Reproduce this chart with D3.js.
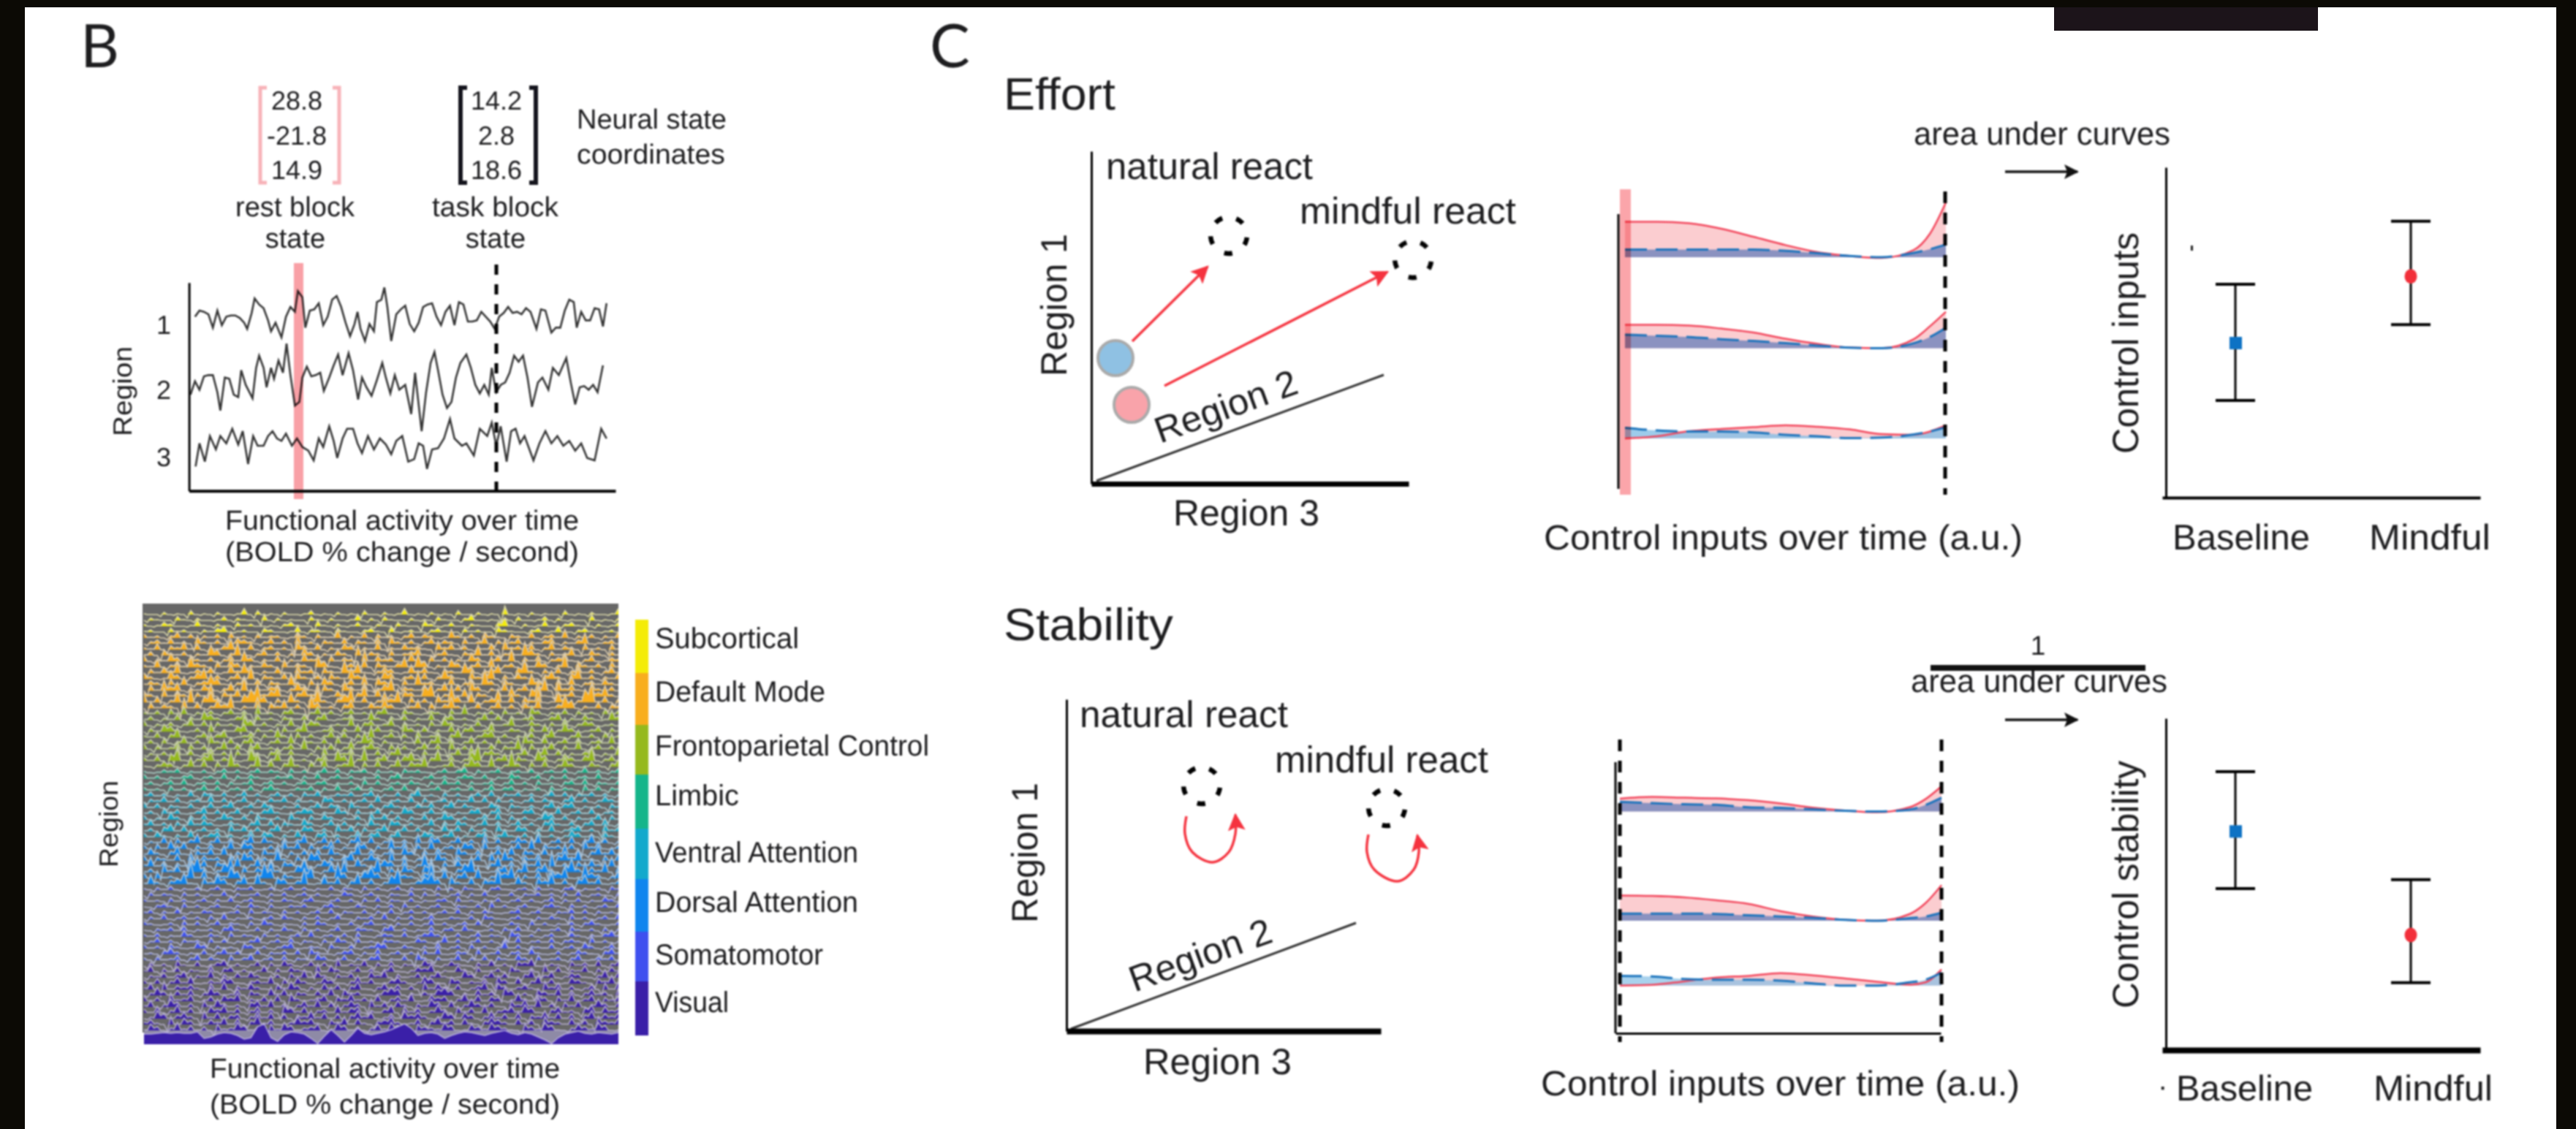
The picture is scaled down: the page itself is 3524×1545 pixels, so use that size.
<!DOCTYPE html>
<html><head><meta charset="utf-8">
<script src="https://d3js.org/d3.v7.min.js"></script>
<style>html,body{margin:0;background:#fff}svg{display:block}text{font-family:"Liberation Sans",Arial,sans-serif;fill:#1d1d1f;text-rendering:geometricPrecision}</style>
</head><body><svg id="c" width="3524" height="1545"></svg>
<script>
// ---------- data ----------
const restState=["28.8","-21.8","14.9"], taskState=["14.2","2.8","18.6"];
const regionLabels=["1","2","3"];
// panel B traces: [time, reading]
const region1=[[90,190],[105,165],[120,170],[135,180],[150,235],[165,165],[180,225],[195,190],[210,185],[225,185],[240,195],[255,215],[265,240],[280,175],[290,115],[305,140],[320,155],[335,205],[345,250],[360,215],[380,275],[395,190],[410,150],[425,170],[435,85],[450,110],[460,235],[475,165],[490,160],[505,135],[520,225],[535,190],[550,120],[565,105],[580,150],[595,215],[610,270],[625,220],[635,170],[645,240],[660,290],[675,220],[690,250],[700,130],[715,120],[725,70],[735,150],[748,290],[765,180],[780,160],[795,145],[810,220],[825,250],[840,215],[855,150],[870,140],[885,135],[900,190],[915,225],[930,170],[945,145],[960,225],[975,130],[990,140],[1005,210],[1020,210],[1035,205],[1050,170],[1065,190],[1080,210],[1095,240],[1110,190],[1125,175],[1140,150],[1155,175],[1170,170],[1185,180],[1200,155],[1215,170],[1235,240],[1250,160],[1265,165],[1285,255],[1300,235],[1315,235],[1330,165],[1345,120],[1360,130],[1370,235],[1385,170],[1400,205],[1415,205],[1430,155],[1445,160],[1458,230],[1470,135]];
const region2=[[75,510],[90,455],[105,490],[120,435],[135,430],[150,430],[165,500],[175,575],[190,440],[205,445],[220,510],[235,520],[245,410],[260,470],[283,525],[295,400],[305,350],[320,400],[330,480],[345,400],[355,445],[370,370],[385,420],[397,300],[410,430],[425,555],[440,540],[450,440],[465,395],[480,435],[495,430],[510,420],[522,495],[540,440],[555,390],[570,345],[585,430],[605,340],[620,410],[637,530],[650,440],[665,480],[682,515],[700,450],[718,380],[730,440],[745,505],[760,430],[775,490],[795,470],[815,590],[828,420],[850,660],[865,500],[880,380],[893,335],[905,410],[920,510],[935,565],[950,540],[965,440],[980,380],[1000,345],[1015,400],[1030,470],[1045,505],[1060,470],[1075,510],[1085,400],[1100,500],[1115,470],[1130,460],[1145,420],[1160,350],[1175,375],[1190,350],[1205,440],[1220,560],[1240,460],[1255,440],[1275,490],[1290,400],[1310,430],[1335,360],[1350,460],[1365,550],[1380,480],[1395,475],[1410,490],[1425,470],[1440,500],[1458,390]];
const region3=[[92,805],[105,710],[123,785],[140,680],[160,735],[175,680],[195,710],[215,650],[235,715],[250,660],[268,795],[285,680],[300,720],[320,720],[335,680],[350,660],[365,690],[380,700],[395,670],[415,720],[432,690],[450,725],[470,740],[488,780],[505,690],[520,725],[540,640],[555,700],[567,770],[585,690],[600,650],[620,650],[635,710],[650,750],[670,680],[690,735],[710,690],[730,715],[748,755],[765,700],[785,680],[805,785],[825,775],[840,710],[855,720],[868,815],[885,735],[905,730],[925,690],[945,610],[960,690],[985,720],[1000,710],[1025,760],[1045,650],[1070,680],[1085,625],[1100,720],[1115,640],[1135,785],[1150,660],[1165,650],[1180,710],[1195,680],[1225,780],[1245,710],[1265,660],[1285,710],[1305,680],[1325,720],[1345,700],[1365,740],[1385,710],[1405,770],[1430,780],[1452,650],[1470,690]];
// carpet: network names, colours, rows per network
const networks=["Subcortical","Default Mode","Frontoparietal Control","Limbic","Ventral Attention","Dorsal Attention","Somatomotor","Visual"];
const networkColors=["#f4ec08","#f8ae1e","#95b91e","#15b58a","#12a9cc","#0f85ee","#3e50ef","#3a1fa8"];
const networkRows=[4,13,10,4,8,8,13,12];
const networkGain=[1,1,.9,.7,.7,.85,.6,.6];
const legendEdges=[0,73,144,212,286,355,427,495,569];
const carpetRows=[
"100201030102001403010200130102010300201401020103002010501020100301020014",
"021003102001302100402010031020014020310020103100240010203001302010040102",
"201320014102003120010231004102013002103100420130021003510201400231002013",
"120031200213401200320014022103100231040120023100312004210023014002310120",
"312024130213041203122014203115021403120241320152130421032140231502130214",
"023141205213014320241306120321403214052130241320412503124021340213601230",
"214032514021362140231205314021430215021423105241302140623140251320412041",
"130421302164027102413021530214206132041235102410326140231742031250142031",
"402153042130241630214021523041320714230152041302153024170314023510240132",
"215024163204153021420513207410231504213617402153024160230415302704213041",
"031426013240152630214105230421736102430152410321640235104720314025130241",
"420153024613024170321405213042163201540231402631052470314210352046130214",
"132041502364102514032162041530241605320417230150241830420163204150231420",
"041635021430251702134025310420631502470321402514063021502413706241052130",
"320514203170425013246103527014203615020431670241503204162058103240153620",
"514026180463021579403162047203581402637041305294160237150428016302791403",
"041320614025370216042513074120350142630125041362014025130426013750214032",
"213041502130241306120341025130241203510420132041602130412053021403120413",
"130214031642013504120321403501240162031402150341202514031240135021420163",
"402130251403120641302150243012160341250312041530214031260142031502430120",
"031542013060214503120413701240315024120631402150341260132041502630124031",
"214036102413501240316204130251403170241305124036102451302140361025130412",
"130402513062140351024160321405102740310215036140251304120631502414023160",
"403125041302614035120241703140261352041302514061302140327041250316024130",
"021306140251304172035141020613250214036120413025160342012503614021350216",
"314057102461320175026141203517402813501462037140269013504217402531480241",
"102430261504193028150372041602390415026143701250364170293041502630142035",
"201324021302413024132041302514032403120423102413503124023140231402513024",
"413021340231503142013240315024130214035120241302431402153024031402315021",
"130241502314031250241302413402130514023142031524031240251304120341503214",
"312041302514023140352013240315024130241503124023140251340213041320514032",
"241302150431402513024130425013241350214036120413024150324130251403241302",
"032514023161402503142503120541302416023150412403261504130251420361402531",
"514032140251360241530214025143062140352014250361420153042130361450213042",
"130524013614025031462013540216304125031640251302145036021450316024150230",
"402163041502631405213062041530214062514031502641302516041302651403125041",
"251304162530142036150421630251403162054130260415302614025130462140351602",
"130461502413062514036021541306250413602514031625041306215403160245130624",
"415203160245130261540316204513026145036102541360214503621405130264130520",
"021504136025140361520413602514036150241306154025130614025316024150361402",
"304162503140261540130625041360215403172504160231540613025170423140625013",
"152036104251603140526031405162037140251630415206314025160431502714036251",
"403215061423051640317204165031460253071402516304125061730425104637120415",
"261403162504317026150431602540716203541602830415261037140526091304252160",
"130625179402690514372015840263710259041630581403692014503714620583142705",
"405120391604275013960421570319402574016320491603517026480315064701943025",
"162034710526403617205413901625037140269013574062150439016205371404625013",
"203140213024103240130241302140320413024031204130421034102304120340213042",
"041320413021503124031402413021530241032150413024031502140324130415023104",
"312041302403150241031420351024130415032140213405120314024130250314021530",
"103420513024103152040132410352014203140513024103214061302410352041302415",
"240315021430124051320413024150321403150241302415031420135024103251403120",
"031502413041602130241520314025103241603140250132140531024103142051302416",
"420130514025132041630210415302140351203140261302415030142051302140352014",
"103241502130462014031520413025014320461302150341620130425103124052130403",
"314021630142051320413024160231405102431502463014025132064130240152031462",
"025130423051402136024150320416305120432015302714025130416023150342061302",
"413052016403120541302460132052140236501420316024051302714032150241630250",
"120463021503624015032415063102450316024130527014306125034162014025310462",
"304125036142051360241503216402503146021507304126031504216305124036014250",
"041306215024613025041630251407132604150321640253104261305470132052416035",
"260415032160451302604153207163025140361025470216305124063140715032604152",
"032514603270415263014052716304250163704125036201740362510471360254103716",
"415036270142651034270516302641037250146302751064132507416037250164205371",
"260714352061704263105274031625047103625140726315024706413520736140250617",
"037415260374126053172604315270634102576031426750316240751306427150362407",
"514072360251647032516073124605372416035270164503726154027316405271360425",
"260375140627413056271403627150364072516304275160374251063728140526037415",
"416037250164725036140752603417256031470625137406251703462751046230571634",
"027514630726145037261504372615047360251746302751640372516043726150472536",
"352071640253716048250137462053716204573126047351620475316250743162507436",
"164037251406237514062751346027514036275106432750164275310642751036427501"];
const visualFloor=[14,14,15,16,15,16,15,15,17,8,10,14,16,15,12,7,9,24,28,9,4,13,17,16,14,8,1,11,20,12,3,12,22,15,13,15,17,20,24,28,22,12,15,16,14,8,12,15,17,16,14,12,15,17,19,15,13,16,14,10,6,1,9,14,16,18,15,14,16,15,14,16];
// panel C control curves
const controlTime=[0,.1,.2,.3,.4,.5,.6,.7,.8,.9,.95,1];
const effortRed=[[48.5,48.5,46.5,39,28,16.6,7,1.7,-1,10,32,75],[32,32,31,27,21.6,13,6,1,0,12.4,30,50],[0,3,10,13,15.4,18,16,12.4,6,5,9.5,18]];
const effortBlue=[[10.4,10.4,10.4,10.4,10.4,8.7,5.4,1.7,0,6,11,17.4],[18.7,17,15.4,12.4,10,7,3.7,.8,0,7,15.4,28],[14.5,11,9.5,9.5,8.3,5,3,.4,1.2,5.4,9.5,15.4]];
const stabilityRed=[[17.7,20,19,18,15.5,11,5.3,1.3,-1,5.8,17,34.6],[34.6,34,32,28,23,13,5.8,1.3,0,9,24,48.8],[0,1,5.8,11,13.3,17,14,9.8,5.3,1.3,4.4,22]];
const stabilityBlue=[[13.3,11.5,10,9.3,5.8,5,3,1,0,2.7,9,19],[9.8,9.8,9.8,9.3,7.5,5.8,4,1.3,0,3.5,5.8,11],[13.3,12.4,8.9,8,8,6.6,3,0,0,4.4,8,17.7]];
// group summaries: [low, mean, high]
const groups=["Baseline","Mindful"];
const inputsStats=[[29.4,46.8,64.6],[52.4,67,83.7]];
const stabilityStats=[[48.7,65.9,83.9],[20.3,34.7,51.4]];
// state-space sketches
const effortSpace={targets:[[188,340],[440,307]],starts:[[33,172],[55,108]],arrows:[[[56,195],[159,297]],[[100,134],[405,290]]],plane:[[7,4],[400,149]]};
const stabilitySpace={targets:[[185,336],[438,306]],loops:[[[164,294],[162,270],[172,245],[200,231],[222,245],[231,270],[231,296]],[[413,269],[411,245],[421,221],[453,205],[475,221],[482,245],[480,268]]],plane:[[6,3],[396,148]]};

// ---------- helpers ----------
const svg=d3.select("#c");
const defs=svg.append("defs");
function head(id,col,size){defs.append("marker").attr("id",id).attr("viewBox","0 0 10 10").attr("refX",9).attr("refY",5)
 .attr("markerWidth",size).attr("markerHeight",size).attr("markerUnits","userSpaceOnUse").attr("orient","auto")
 .append("path").attr("d","M0,0L10,5L0,10L2,5Z").attr("fill",col);}
head("rh","#f5333f",24);head("kh","#111",20);
svg.append("rect").attr("width",3524).attr("height",10).attr("fill","#0c0a05");
svg.append("rect").attr("width",34).attr("height",1545).attr("fill","#0c0a05");
svg.append("rect").attr("x",3497).attr("width",27).attr("height",1545).attr("fill","#0c0a05");
svg.append("rect").attr("x",2810).attr("y",10).attr("width",361).attr("height",32).attr("fill","#1c141a");
const g=svg.append("g").style("filter","blur(1.1px)");
function T(s,x,y,w,size,rot){const t=g.append("text").attr("x",x).attr("y",y).attr("font-size",size).text(s);
 if(w){t.attr("textLength",w).attr("lengthAdjust","spacingAndGlyphs");}
 if(rot)t.attr("transform",`rotate(${rot} ${x} ${y})`);return t;}
function Tc(s,cx,y,size){return T(s,cx,y,null,size).attr("text-anchor","middle");}
function axis(gen,tx,ty,w,col){const a=g.append("g").attr("transform",`translate(${tx},${ty})`).call(gen.tickValues([]).tickSizeOuter(0));
 a.select(".domain").attr("stroke",col||"#000").attr("stroke-width",w);return a;}
function vdash(x,y0,y1,w,dash){g.append("line").attr("x1",x).attr("x2",x).attr("y1",y0).attr("y2",y1).attr("stroke","#000").attr("stroke-width",w).attr("stroke-dasharray",dash);}
function bracket(x,y0,y1,d,tip,col,w){g.append("path").attr("fill","none").attr("stroke",col).attr("stroke-width",w)
 .attr("d",d3.line()([[x+d*tip,y0],[x,y0],[x,y1],[x+d*tip,y1]]));}

// ---------- B ----------
T("B",110,92,null,82).style("font-family","Lato");
bracket(356,120,250,1,9,"#f7b2b8",5);bracket(464,120,250,-1,9,"#f7b2b8",5);
bracket(630,120,250,1,9,"#14141c",6);bracket(733,120,250,-1,9,"#14141c",6);
const stateY=[150,198,245];
restState.forEach((s,i)=>Tc(s,406,stateY[i],36));
taskState.forEach((s,i)=>Tc(s,679,stateY[i],36));
T("Neural state",789,176,205,38);T("coordinates",789,224,203,38);
T("rest block",322,296,163,38);Tc("state",404,339,38);
T("task block",591,296,173,38);Tc("state",678,339,38);
const tx=d3.scaleLinear().domain([70,1500]).range([258.6,842]);
const ty=d3.scaleLinear().domain([905,50]).range([671.7,386.7]);
const tl=d3.line().x(d=>tx(d[0])).y(d=>ty(d[1]));
[region1,region2,region3].forEach(r=>g.append("path").attr("d",tl(r)).attr("fill","none").attr("stroke","#333").attr("stroke-width",2.6));
g.append("rect").attr("x",402).attr("y",360).attr("width",13).attr("height",323).attr("fill","#f9a0a6").style("mix-blend-mode","multiply");
axis(d3.axisBottom(tx),0,671.7,4);axis(d3.axisLeft(ty),258.6,0,3);
vdash(679,362,683,5,"14 13");
regionLabels.forEach((s,i)=>T(s,224,[457,546,638][i],null,36).attr("text-anchor","middle").attr("fill","#444"));
T("Region",180,597,123,36,-90).attr("fill","#444");
T("Functional activity over time",308,725,484,38);
T("(BOLD % change / second)",308,768,484,38);

// carpet
const cx0=197,cx1=846;
g.append("rect").attr("x",195).attr("y",826).attr("width",651).attr("height",587).attr("fill","#676767");
g.append("rect").attr("x",197).attr("y",1410).attr("width",649).attr("height",18).attr("fill","#8e8aa6");
const rowY=d3.scaleLinear().domain([0,carpetRows.length-1]).range([841,1410]);
const bandOf=[];networkRows.forEach((n,b)=>{for(let i=0;i<n;i++)bandOf.push(b);});
const ampl=d3.scalePow().exponent(1.4).domain([0,9]).range([0,26]);
carpetRows.forEach((row,i)=>{
 const peaks=row.split("").map(Number);
 const vals=peaks.flatMap((d,k)=>k<peaks.length-1?[d,d&&peaks[k+1]?Math.min(d,peaks[k+1])*.7:-peaks[k+1]*.9]:[d]);
 const x=d3.scaleLinear().domain([0,vals.length-1]).range([cx0,cx1]);
 const b=bandOf[i],col=networkColors[b],base=rowY(i),gain=networkGain[b];
 const h=d=>(d<0?-1:1)*ampl(Math.abs(d))*gain;
 const a=d3.area().x((d,k)=>x(k)).y0(base).y1(d=>base-Math.max(0,h(d)));
 g.append("path").attr("d",a(vals)).attr("fill",col);
 g.append("path").attr("d",d3.line().x((d,k)=>x(k)).y(d=>base-h(d))(vals)).attr("fill","none").attr("stroke",d3.interpolateRgb(col,"#d2d2d2")(.8)).attr("stroke-width",1.6);
});
const fx=d3.scaleLinear().domain([0,visualFloor.length-1]).range([cx0,cx1]);
const fa=d3.area().x((d,k)=>fx(k)).y0(1429).y1(d=>1429-d);
g.append("path").attr("d",fa(visualFloor)).attr("fill","#3a1fa8");
g.append("path").attr("d",fa.lineY1()(visualFloor)).attr("fill","none").attr("stroke","#b9b0e0").attr("stroke-width",1.5);
// legend
const ly=d3.scaleLinear().domain([0,569]).range([848,1417]);
const legW=[197,233,375,115,278,278,230,101],legB=[887,960,1034,1102,1180,1248,1320,1385];
networks.forEach((n,i)=>{
 g.append("rect").attr("x",869).attr("width",18).attr("y",ly(legendEdges[i])).attr("height",ly(legendEdges[i+1])-ly(legendEdges[i])).attr("fill",networkColors[i]);
 T(n,896,legB[i],legW[i],40);
});
T("Region",161,1187,119,36,-90).attr("fill","#444");
T("Functional activity over time",287,1475,479,38);
T("(BOLD % change / second)",287,1524,479,38);

// ---------- C ----------
T("C",1272,92,null,82).style("font-family","Lato");
T("Effort",1373,150,153,62);T("Stability",1373,876,232,62);
function phase(ox,oy,sp,lenX,lenY,tickW){
 const sx=d3.scaleLinear().domain([0,lenX]).range([ox,ox+lenX]);
 const sy=d3.scaleLinear().domain([0,lenY]).range([oy,oy-lenY]);
 const L=d3.line().x(d=>sx(d[0])).y(d=>sy(d[1]));
 g.append("path").attr("d",L(sp.plane)).attr("stroke","#333").attr("stroke-width",3).attr("fill","none");
 axis(d3.axisBottom(sx),0,oy,tickW);axis(d3.axisLeft(sy),ox,0,3);
 sp.targets.forEach(d=>g.append("circle").attr("cx",sx(d[0])).attr("cy",sy(d[1])).attr("r",25).attr("fill","none").attr("stroke","#000").attr("stroke-width",6.5).attr("stroke-dasharray","11 20.4").attr("transform",`rotate(-66 ${sx(d[0])} ${sy(d[1])})`));
 if(sp.starts)sp.starts.forEach((d,i)=>g.append("circle").attr("cx",sx(d[0])).attr("cy",sy(d[1])).attr("r",24).attr("fill",["#8fc1e3","#f9a3aa"][i]).attr("stroke","#aaa").attr("stroke-width",4));
 if(sp.arrows)sp.arrows.forEach(a=>g.append("path").attr("d",L(a)).attr("stroke","#f5333f").attr("stroke-width",3.5).attr("fill","none").attr("marker-end","url(#rh)"));
 if(sp.loops)sp.loops.forEach(a=>g.append("path").attr("d",L.curve(d3.curveCatmullRom)(a)).attr("stroke","#f5333f").attr("stroke-width",3.5).attr("fill","none").attr("marker-end","url(#rh)"));
}
phase(1493,662,effortSpace,434,455,7);
phase(1459,1411,stabilitySpace,430,454,8);
T("natural react",1513,245,283,51);T("mindful react",1778,306,296,51);
T("Region 2",1587,607,204,50,-20);T("Region 1",1459,515,195,50,-90);T("Region 3",1605,719,200,50);
T("natural react",1477,995,285,51);T("mindful react",1744,1057,292,51);
T("Region 2",1552,1358,204,50,-20);T("Region 1",1419,1263,192,50,-90);T("Region 3",1564,1470,203,50);

function control(x0,x1,bases,red,blue,alpha){
 const sx=d3.scaleLinear().domain([0,1]).range([x0,x1]);
 bases.forEach((b,i)=>{
  const sy=d3.scaleLinear().domain([0,100]).range([b,b-100]);
  const area=d3.area().x((d,k)=>sx(controlTime[k])).y0(b).y1(d=>sy(d)).curve(d3.curveMonotoneX);
  const line=d3.line().x((d,k)=>sx(controlTime[k])).y(d=>sy(d)).curve(d3.curveMonotoneX);
  g.append("path").attr("d",area(red[i])).attr("fill","#fbcdd0");
  g.append("path").attr("d",area(blue[i])).attr("fill",i==2?"#85bfe6":"#6f83bb").attr("fill-opacity",alpha[i]);
  g.append("path").attr("d",line(red[i])).attr("fill","none").attr("stroke","#f2445a").attr("stroke-width",2.5);
  g.append("path").attr("d",line(blue[i])).attr("fill","none").attr("stroke","#1a73bc").attr("stroke-width",3).attr("stroke-dasharray","30 12");
 });
}
control(2223,2662,[352,476.6,600],effortRed,effortBlue,[.8,.8,.8]);
g.append("rect").attr("x",2216).attr("y",259).attr("width",15).attr("height",418).attr("fill","#fba5aa").style("mix-blend-mode","multiply");
g.append("line").attr("x1",2214).attr("x2",2214).attr("y1",293).attr("y2",669).attr("stroke","#000").attr("stroke-width",3);
vdash(2661,262,677,5,"16 13");
T("Control inputs over time (a.u.)",2112,752,655,48);
control(2216,2656,[1110.6,1260,1348.7],stabilityRed,stabilityBlue,[.8,.8,.7]);
const cxAxis=d3.scaleLinear().domain([0,1]).range([2210,2655]);
axis(d3.axisBottom(cxAxis),0,1414,3);
g.append("line").attr("x1",2210).attr("x2",2210).attr("y1",1043).attr("y2",1414).attr("stroke","#000").attr("stroke-width",3);
vdash(2216,1012,1426,5,"16 13");vdash(2656,1012,1426,5,"16 13");
T("Control inputs over time (a.u.)",2108,1499,655,48);

function stats(yb,yt,rows,xw){
 const sy=d3.scaleLinear().domain([0,100]).range([yb,yt]);
 const sx=d3.scalePoint().domain(groups).range([3058,3298]);
 const ax=d3.scaleLinear().domain([0,1]).range([2958,3393]);
 axis(d3.axisBottom(ax),0,yb,xw);axis(d3.axisLeft(sy),2963,0,3);
 rows.forEach((r,i)=>{const x=sx(groups[i]);
  g.append("line").attr("x1",x).attr("x2",x).attr("y1",sy(r[0])).attr("y2",sy(r[2])).attr("stroke","#000").attr("stroke-width",3);
  [r[0],r[2]].forEach(v=>g.append("line").attr("x1",x-27).attr("x2",x+27).attr("y1",sy(v)).attr("y2",sy(v)).attr("stroke","#000").attr("stroke-width",4));
  if(i==0)g.append("rect").attr("x",x-8).attr("y",sy(r[1])-8.5).attr("width",17).attr("height",17).attr("fill","#0d72c4");
  else g.append("ellipse").attr("cx",x).attr("cy",sy(r[1])).attr("rx",8.5).attr("ry",10).attr("fill","#f22f3a");
 });
}
stats(681,229,inputsStats,4);
stats(1437,983,stabilityStats,8);
T("Control inputs",2925,621,303,50,-90);T("Control stability",2925,1380,339,50,-90);
T("Baseline",2972,752,188,49);T("Mindful",3241,752,166,49);
T("·",2952,1500,null,40);T("Baseline",2977,1506,187,49);T("Mindful",3247,1506,163,49);
g.append("rect").attr("x",2997).attr("y",336).attr("width",3).attr("height",7).attr("fill","#222");
T("area under curves",2618,198,351,44);T("area under curves",2614,947,351,44);
Tc("1",2788,896,37);
g.append("line").attr("x1",2641).attr("x2",2935).attr("y1",914).attr("y2",914).attr("stroke","#111").attr("stroke-width",8);
const arrowX=d3.scaleLinear().domain([0,1]).range([2743,2842]);
[235,985].forEach(y=>g.append("line").attr("x1",arrowX(0)).attr("x2",arrowX(1)).attr("y1",y).attr("y2",y).attr("stroke","#111").attr("stroke-width",3.5).attr("marker-end","url(#kh)"));
</script></body></html>
